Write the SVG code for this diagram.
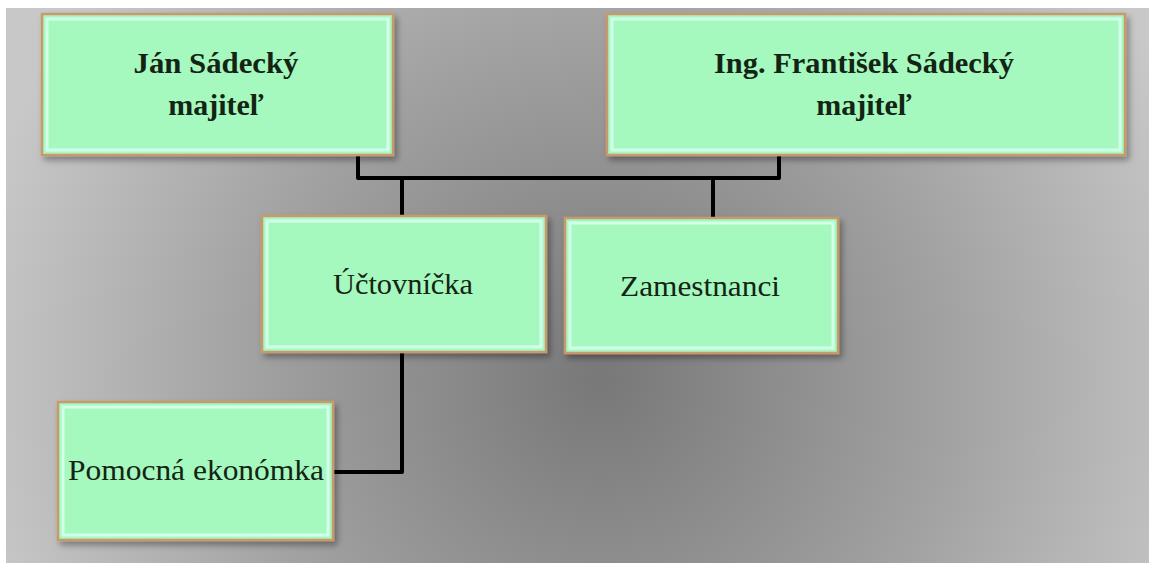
<svg xmlns="http://www.w3.org/2000/svg" width="1149" height="563" viewBox="0 0 1149 563">
<defs>
<radialGradient id="bg" gradientUnits="userSpaceOnUse" cx="600" cy="380" r="640">
<stop offset="0" stop-color="#787878"/>
<stop offset="0.55" stop-color="#a2a2a2"/>
<stop offset="1" stop-color="#c8c8c8"/>
</radialGradient>
<filter id="sh" x="-10%" y="-10%" width="120%" height="130%">
<feDropShadow dx="3" dy="4" stdDeviation="3" flood-color="#000" flood-opacity="0.35"/>
</filter>
</defs>
<style>
.box{fill:#a5f8be;stroke:#c9996c;stroke-width:2.5;filter:url(#sh)}
.inner{fill:none;stroke:#d2ffec;stroke-width:3}
.t{fill:#142414;text-anchor:middle}
.b{font-weight:bold;font-size:30px}
.r{font-size:30px}
.c{fill:none;stroke:#000;stroke-width:4;stroke-linejoin:round}
</style>
<rect x="0" y="0" width="1149" height="563" fill="#fff"/>
<rect x="6" y="8" width="1143" height="555" fill="url(#bg)"/>
<g id="connectors">
<path class="c" d="M358,154 V178 H779 V154"/>
<path class="c" d="M402,178 V216"/>
<path class="c" d="M713,178 V218"/>
<path class="c" d="M402,352 V472 H334"/>
</g>
<g id="jan">
<rect class="box" x="42" y="14" width="351" height="141"/>
<rect class="inner" x="47" y="19" width="341" height="131"/>
<text class="t b" font-family="Liberation Serif, serif" x="216" y="73" textLength="165" lengthAdjust="spacingAndGlyphs">Ján Sádecký</text>
<text class="t b" font-family="Liberation Serif, serif" x="216" y="115">majiteľ</text>
</g>
<g id="frantisek">
<rect class="box" x="607" y="14" width="518" height="141"/>
<rect class="inner" x="612" y="19" width="508" height="131"/>
<text class="t b" font-family="Liberation Serif, serif" x="864" y="73" textLength="300" lengthAdjust="spacingAndGlyphs">Ing. František Sádecký</text>
<text class="t b" font-family="Liberation Serif, serif" x="864" y="115">majiteľ</text>
</g>
<g id="uctovnicka">
<rect class="box" x="262" y="216" width="284" height="136"/>
<rect class="inner" x="267" y="221" width="274" height="126"/>
<text class="t r" font-family="Liberation Serif, serif" x="403" y="294" textLength="140" lengthAdjust="spacingAndGlyphs">Účtovníčka</text>
</g>
<g id="zamestnanci">
<rect class="box" x="565" y="218" width="273" height="135"/>
<rect class="inner" x="570" y="223" width="263" height="125"/>
<text class="t r" font-family="Liberation Serif, serif" x="700" y="296" textLength="160" lengthAdjust="spacingAndGlyphs">Zamestnanci</text>
</g>
<g id="pomocna">
<rect class="box" x="58" y="402" width="275" height="138"/>
<rect class="inner" x="63" y="407" width="265" height="128"/>
<text class="t r" font-family="Liberation Serif, serif" x="196" y="480" textLength="256" lengthAdjust="spacingAndGlyphs">Pomocná ekonómka</text>
</g>
</svg>
